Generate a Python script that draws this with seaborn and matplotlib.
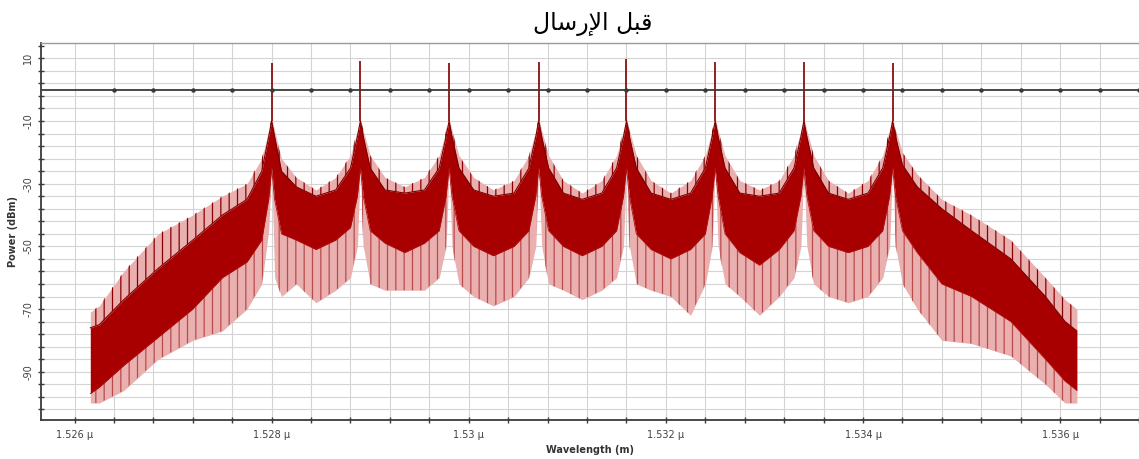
import numpy as np
import pandas as pd
import matplotlib
matplotlib.use("Agg")
import matplotlib.pyplot as plt
import seaborn as sns

# ---------------- data ----------------
# wavelength sample points (µm)
wl = [
    1.52616, 1.52625, 1.52650, 1.52685, 1.52720, 1.52750,
    1.52775, 1.52790, 1.52797, 1.52800, 1.52803, 1.52810, 1.52825,
    1.52845,
    1.52865, 1.52880, 1.52887, 1.52890, 1.52893, 1.52900, 1.52915,
    1.52935,
    1.52955, 1.52970, 1.52977, 1.52980, 1.52983, 1.52990, 1.53005,
    1.53025,
    1.53046, 1.53061, 1.53068, 1.53071, 1.53074, 1.53081, 1.53096,
    1.53115,
    1.53135, 1.53150, 1.53157, 1.53160, 1.53163, 1.53170, 1.53185,
    1.53205,
    1.53225, 1.53240, 1.53247, 1.53250, 1.53253, 1.53260, 1.53275,
    1.53295,
    1.53315, 1.53330, 1.53337, 1.53340, 1.53343, 1.53350, 1.53365,
    1.53385,
    1.53405, 1.53420, 1.53427, 1.53430, 1.53433, 1.53440, 1.53455,
    1.53480, 1.53510, 1.53550, 1.53585, 1.53605, 1.53617,
]
# top of the dense (dark) part of the trace, dBm
core_top = [
    -76, -75, -67, -57, -48, -40,
    -35, -26, -15, -10, -15, -26, -31,
    -34,
    -32, -25, -15, -10, -15, -25, -32,
    -33,
    -32, -25, -15, -10, -15, -25, -32,
    -34,
    -33, -25, -15, -10, -15, -25, -33,
    -35,
    -33, -25, -15, -10, -15, -25, -33,
    -35,
    -33, -25, -15, -10, -15, -25, -33,
    -34,
    -33, -25, -15, -10, -15, -25, -33,
    -35,
    -33, -25, -15, -10, -15, -24, -31,
    -38, -45, -54, -66, -74, -77,
]
# bottom of the dense (dark) part of the trace, dBm
core_bot = [
    -97, -95, -88, -79, -70, -60,
    -55, -48, -35, -25, -35, -46, -48,
    -51,
    -48, -44, -34, -25, -34, -45, -49,
    -52,
    -49, -45, -34, -25, -34, -45, -50,
    -53,
    -50, -45, -34, -25, -34, -45, -50,
    -53,
    -50, -45, -34, -25, -34, -46, -51,
    -54,
    -51, -46, -34, -25, -34, -46, -52,
    -56,
    -51, -45, -34, -25, -34, -45, -50,
    -52,
    -50, -45, -34, -25, -34, -45, -52,
    -62, -66, -74, -86, -93, -96,
]
# upper tips of the sideband comb, dBm
spike_top = [
    -71, -69, -58, -46, -40, -34,
    -30, -22, -13, -9, -13, -22, -28,
    -32,
    -28, -21, -13, -9, -13, -21, -28,
    -31,
    -28, -21, -13, -9, -13, -21, -28,
    -32,
    -29, -21, -13, -9, -13, -21, -29,
    -33,
    -29, -21, -13, -9, -13, -21, -29,
    -33,
    -29, -21, -13, -9, -13, -21, -29,
    -32,
    -29, -21, -13, -9, -13, -21, -29,
    -33,
    -29, -21, -13, -9, -13, -20, -27,
    -35, -40, -48, -60, -67, -70,
]
# lower tips of the downward spikes, dBm
dip_bot = [
    -100, -100, -96, -86, -80, -77,
    -70, -62, -45, -25, -60, -66, -62,
    -68,
    -64, -60, -50, -25, -50, -62, -64,
    -64,
    -64, -60, -50, -25, -50, -62, -66,
    -69,
    -66, -60, -50, -25, -50, -62, -64,
    -67,
    -64, -60, -50, -25, -50, -62, -64,
    -66,
    -72, -62, -50, -25, -50, -62, -66,
    -72,
    -66, -60, -50, -25, -50, -62, -66,
    -68,
    -66, -60, -50, -25, -50, -62, -70,
    -80, -81, -85, -94, -100, -100,
]
# channel carriers
carrier_wl = [1.52800, 1.52890, 1.52980, 1.53071, 1.53160, 1.53250, 1.53340, 1.53430]
carrier_peak = [8.5, 9.2, 8.6, 8.9, 9.7, 8.9, 8.9, 8.6]
carrier_base = [-10, -10, -10, -10, -10, -10, -10, -10]

x_tick_vals = [1.526, 1.528, 1.530, 1.532, 1.534, 1.536]
x_tick_labels = ["1.526 µ", "1.528 µ", "1.53 µ", "1.532 µ", "1.534 µ", "1.536 µ"]
y_tick_vals = [10, -10, -30, -50, -70, -90]
y_tick_labels = ["10", "-10", "-30", "-50", "-70", "-90"]

# Arabic title, logical text "قبل الإرسال", given in shaped presentation forms (visual order)
title_text = "\ufedd\ufe8e\ufeb3\ufead\ufef9\ufe8d \ufede\ufe92\ufed7"

# ---------------- drawing ----------------
sns.set_theme(style="white")
plt.rcParams["font.family"] = ["DejaVu Sans"]
plt.rcParams["hatch.linewidth"] = 0.9

df = pd.DataFrame({"wl": wl, "core_top": core_top, "core_bot": core_bot,
                   "spike_top": spike_top, "dip_bot": dip_bot})

fig = plt.figure(figsize=(11.39, 4.59), dpi=100)
ax = fig.add_axes([0.036, 0.085, 0.964, 0.822])

xmin, xmax = 1.52566, 1.53666
ymin, ymax = -105.4, 15.0
ax.set_xlim(xmin, xmax)
ax.set_ylim(ymin, ymax)

# grid
grid_c = "#d4d4d4"
for gx in np.arange(1.5260, 1.5370, 0.0004):
    ax.axvline(gx, color=grid_c, lw=0.8, zorder=0)
for gy in np.arange(10, -106, -4):
    ax.axhline(gy, color=grid_c, lw=0.8, zorder=0)

light = "#eab0b0"
dark = "#a80000"

# outer (light) region: downward dips and upward comb tips
ax.fill_between(df["wl"], df["dip_bot"], df["core_bot"], color=light, lw=0,
                zorder=2)
ax.fill_between(df["wl"], df["dip_bot"], df["core_bot"], facecolor="none",
                edgecolor="#b84a4a", hatch="||", lw=0, zorder=2.1)
ax.fill_between(df["wl"], df["core_top"], df["spike_top"], color=light, lw=0,
                zorder=2)
ax.fill_between(df["wl"], df["core_top"], df["spike_top"], facecolor="none",
                edgecolor="#8a0000", hatch="||", lw=0, zorder=2.1)
# dense core
ax.fill_between(df["wl"], df["core_bot"], df["core_top"], color=dark, lw=0,
                zorder=3)
sns.lineplot(data=df, x="wl", y="core_top", color="#7a0000", lw=0.8, ax=ax,
             zorder=3.5, legend=False)
sns.lineplot(data=df, x="wl", y="core_bot", color="#b01010", lw=0.6, ax=ax,
             zorder=3.5, legend=False)

# carriers
ax.vlines(carrier_wl, carrier_base, carrier_peak, color="#8b1010", lw=1.3,
          zorder=4)

# 0 dBm reference line with dots
ax.axhline(0, color="#3a3a3a", lw=1.3, zorder=5)
dots_x = np.arange(1.5264, 1.5370, 0.0004)
ax.plot(dots_x, np.zeros_like(dots_x), ls="none", marker="o", ms=2.2,
        color="#3a3a3a", zorder=5)

# axes / spines
ax.spines["right"].set_visible(False)
ax.spines["top"].set_color("#9a9a9a")
ax.spines["top"].set_linewidth(1.0)
ax.spines["left"].set_color("#3a3a3a")
ax.spines["left"].set_linewidth(1.3)
ax.spines["bottom"].set_color("#3a3a3a")
ax.spines["bottom"].set_linewidth(1.3)

ax.set_xticks(x_tick_vals)
ax.set_xticklabels(x_tick_labels)
ax.set_xticks(np.arange(1.5260, 1.5370, 0.0004), minor=True)
ax.set_yticks(y_tick_vals)
ax.set_yticklabels(y_tick_labels, rotation=90, va="center")
ax.set_yticks(np.arange(14, -106, -4), minor=True)

ax.tick_params(axis="x", which="major", direction="inout", length=5, width=1,
               color="#3a3a3a", labelsize=7, labelcolor="#404040", pad=5)
ax.tick_params(axis="x", which="minor", direction="inout", length=4, width=1,
               color="#3a3a3a")
ax.tick_params(axis="y", which="major", direction="inout", length=5, width=1,
               color="#3a3a3a", labelsize=7, labelcolor="#404040", pad=3)
ax.tick_params(axis="y", which="minor", direction="inout", length=4, width=1,
               color="#3a3a3a")
ax.tick_params(left=True, bottom=True, which="both")

ax.set_xlabel("Wavelength (m)", fontsize=7, fontweight="bold", color="#333333",
              labelpad=3)
ax.set_ylabel("Power (dBm)", fontsize=7, fontweight="bold", color="#333333",
              labelpad=4)

fig.text(0.52, 0.948, title_text, ha="center", va="center", fontsize=17,
         color="black", family=["DejaVu Sans"])

fig.savefig("out.png", dpi=100)
